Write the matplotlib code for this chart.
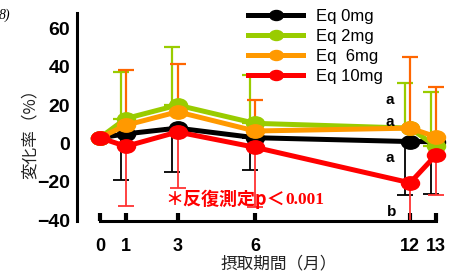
import numpy as np
import matplotlib
matplotlib.use("Agg")
import matplotlib.pyplot as plt
import matplotlib.transforms as mtransforms
from matplotlib.path import Path

# data (% change from baseline)
months = [0, 1, 3, 6, 12, 13]
eq0 = [3, 5, 8, 3, 1, 1]
eq2 = [3, 13, 20, 10.5, 8, -1.5]
eq6 = [3, 9.5, 16.5, 6.5, 8, 3.5]
eq10 = [3, -1.5, 6, -2, -20.5, -6]
# one-sided SD bars
eq0_sd = [0, 24, 23, 17, 28, 27.5]
eq2_sd = [0, 24.5, 30.5, 25, 23.5, 28.5]
eq6_sd = [0, 29, 25, 16, 37, 26]
eq10_sd = [0, 31, 29, 31, 20.5, 21]

labels = ["Eq 0mg", "Eq 2mg", "Eq  6mg", "Eq 10mg"]
yticks = [-40, -20, 0, 20, 40, 60]

W, H = 453, 276


def fx(px):
    return px / W


def fy(py):
    return 1 - py / H


plt.rcParams['font.family'] = ['Liberation Sans', 'Noto Sans CJK JP', 'DejaVu Sans']
jp = ['Noto Sans CJK JP', 'DejaVu Sans']

fig = plt.figure(figsize=(W / 100, H / 100), dpi=100)
ax = fig.add_axes([fx(77), fy(221), fx(453) - fx(77), fy(13) - fy(221)])
ax.set_xlim(-0.89, 13.66)
ax.set_ylim(-40.4, 68)

ell = Path.unit_circle().transformed(mtransforms.Affine2D().scale(1.35, 1.0))

series = [
    (eq0, eq0_sd, "lower", "#000000", "#000000", -0.2, 1.3),
    (eq2, eq2_sd, "upper", "#99cc00", "#99cc00", -0.2, 1.6),
    (eq6, eq6_sd, "upper", "#ff9900", "#ff6600", 0.0, 1.6),
    (eq10, eq10_sd, "lower", "#ff0000", "#ff3333", 0.0, 1.3),
]

m = np.array(months, dtype=float)
handles = []
for i, (vals, sd, side, col, ecol, dx, elw) in enumerate(series):
    vals = np.array(vals, dtype=float)
    sd = np.array(sd, dtype=float)
    zero = np.zeros_like(sd)
    yerr = [sd, zero] if side == "lower" else [zero, sd]
    sel = sd > 0
    ax.errorbar(m[sel] + dx, vals[sel], yerr=[yerr[0][sel], yerr[1][sel]],
                fmt='none', ecolor=ecol, elinewidth=elw, capsize=6,
                capthick=elw, zorder=2)
    h, = ax.plot(m, vals, color=col, lw=3.6, marker=ell, markersize=13,
                 zorder=3 + i, label=labels[i])
    handles.append(h)

leg = ax.legend(handles=handles, loc='upper left', frameon=False,
                bbox_to_anchor=(fx(248), fy(9)), bbox_transform=fig.transFigure,
                borderpad=0, borderaxespad=0, handlelength=3.3,
                handletextpad=0.8, labelspacing=0.3, fontsize=12,
                markerscale=0.75)

# spines / ticks
for s in ['top', 'right']:
    ax.spines[s].set_visible(False)
ax.spines['left'].set_linewidth(2.2)
ax.spines['bottom'].set_linewidth(2.2)
ax.spines['bottom'].set_bounds(0, 13)
ax.set_xticks(months)
ax.set_xticklabels([str(v) for v in months])
ax.set_yticks(yticks)
ax.tick_params(axis='x', direction='in', length=6, width=3, pad=12,
               labelsize=13)
ax.tick_params(axis='y', length=0, pad=5, labelsize=14)
for t in ax.get_xticklabels() + ax.get_yticklabels():
    t.set_fontweight('bold')

# significance letters
for x, y, s in [(11.2, 22.5, "a"), (11.2, 11, "a"), (11.2, -7.5, "a"),
                (11.3, -35.5, "b")]:
    ax.text(x, y, s, fontsize=11, fontweight='bold', ha='center', va='center',
            zorder=10)

fig.text(fx(165), fy(199), "＊反復測定p＜", color='#ff0000', fontsize=13,
         fontweight='bold', family=jp, ha='left', va='center')
fig.text(fx(285), fy(200), "0.001", color='#ff0000', fontsize=12.5,
         fontweight='bold', family=['Liberation Serif', 'DejaVu Serif'],
         ha='left', va='center')

fig.text(fx(30), fy(130), "変化率（%）", rotation=90, fontsize=12,
         family=jp, ha='center', va='center', color='#222222')
fig.text(fx(279), fy(264), "摂取期間（月）", fontsize=12, family=jp,
         ha='center', va='center', color='#222222')
fig.text(fx(-1), fy(15), "8)", fontsize=10, style='italic',
         family=['Liberation Serif', 'DejaVu Serif'], ha='left', va='center')

fig.savefig("out.png", dpi=100)
